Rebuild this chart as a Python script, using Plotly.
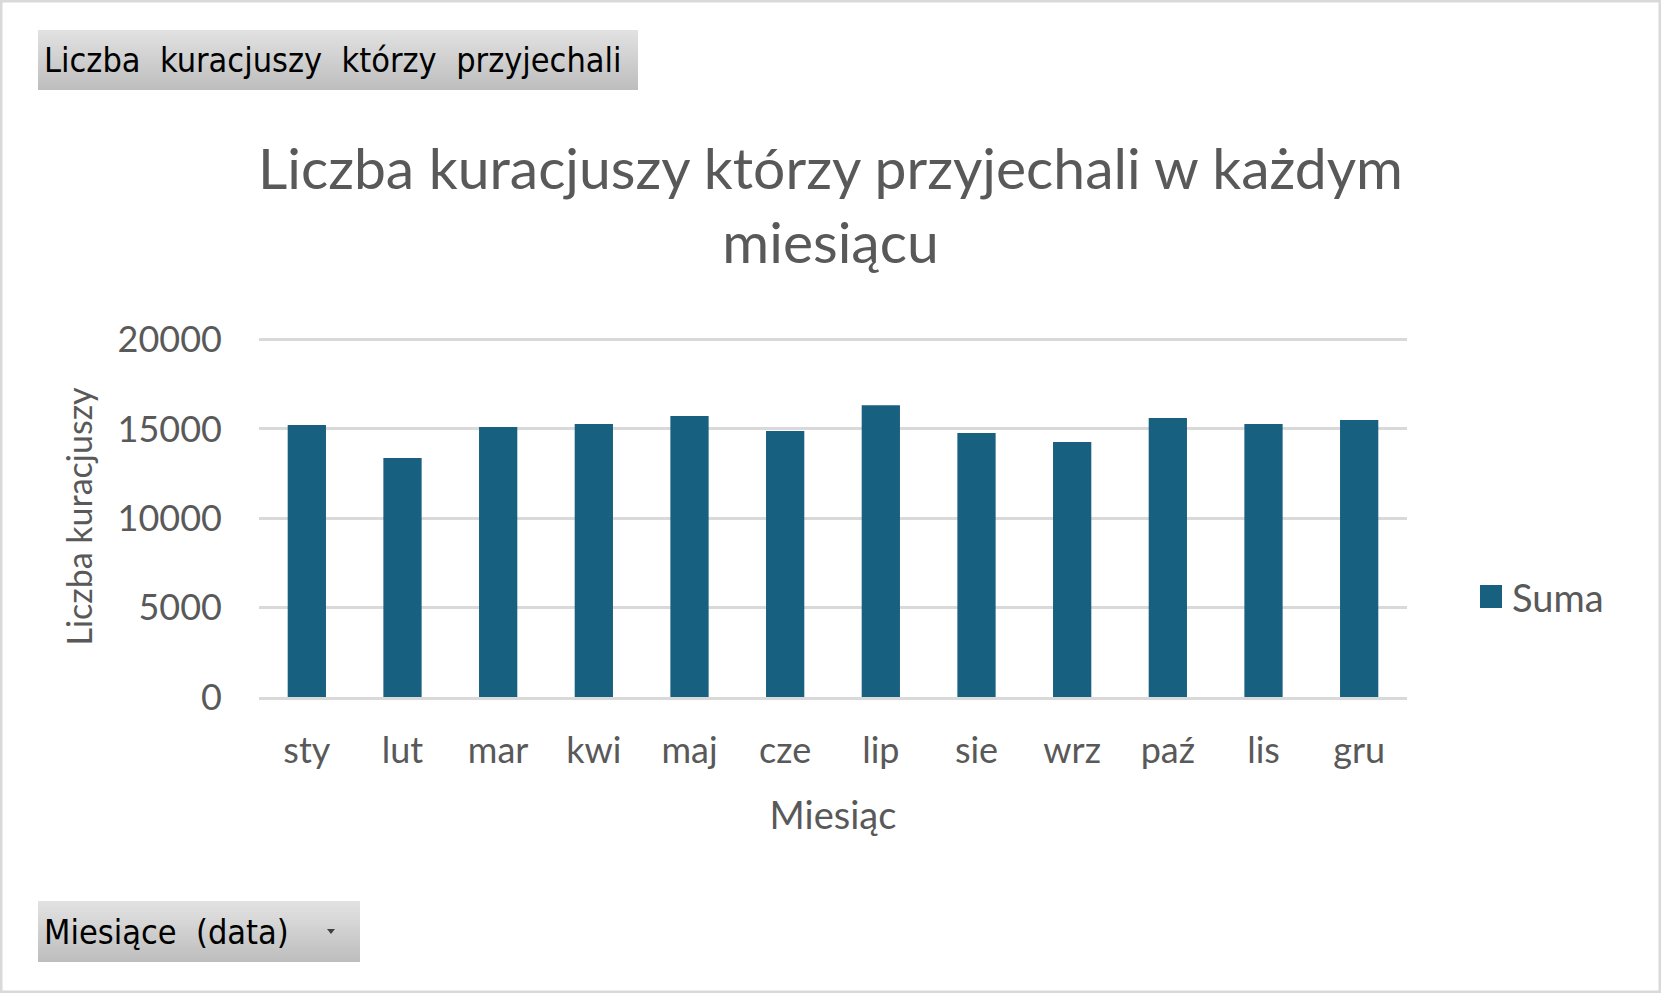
import plotly.graph_objects as go

months = ["sty", "lut", "mar", "kwi", "maj", "cze", "lip", "sie", "wrz", "paź", "lis", "gru"]
suma = [15214, 13371, 15102, 15270, 15717, 14879, 16331, 14767, 14264, 15605, 15270, 15493]
y_ticks = [0, 5000, 10000, 15000, 20000]

W, H = 1661, 993
L, R, T, B = 259, 1407, 336, 697
PW, PH = R - L, B - T

def px(x):
    return (x - L) / PW

def py(y):
    return (B - y) / PH

BAR = "#17607f"
GREY = "#595959"
FONT = "Lato"

fig = go.Figure()
fig.add_trace(go.Bar(x=months, y=suma, name="Suma", marker=dict(color=BAR, line=dict(width=0)),
                     showlegend=False))

shapes = []
# outer frame
shapes.append(dict(type="rect", xref="paper", yref="paper", x0=px(1), x1=px(W - 1), y0=py(H - 1), y1=py(1),
                   line=dict(color="#d9d9d9", width=3), fillcolor="rgba(0,0,0,0)", layer="below"))

def button(x0, y0, x1, y1, n=30):
    c0 = (225, 225, 225)
    c1 = (190, 190, 190)
    for i in range(n):
        t = i / (n - 1)
        c = tuple(int(round(c0[k] + (c1[k] - c0[k]) * t)) for k in range(3))
        ya = y0 + (y1 - y0) * i / n
        yb = y0 + (y1 - y0) * (i + 1) / n + 0.5
        shapes.append(dict(type="rect", xref="paper", yref="paper", x0=px(x0), x1=px(x1),
                           y0=py(min(yb, y1)), y1=py(ya), line=dict(width=0),
                           fillcolor="rgb(%d,%d,%d)" % c, layer="below"))

button(38, 30, 638, 90)
button(38, 901, 360, 962)

# dropdown arrow
shapes.append(dict(type="path", xref="paper", yref="paper",
                   path="M %f %f L %f %f L %f %f Z" % (px(327), py(929), px(335), py(929), px(331), py(934)),
                   fillcolor="#404040", line=dict(width=0)))

# legend key
shapes.append(dict(type="rect", xref="paper", yref="paper", x0=px(1480), x1=px(1502),
                   y0=py(608), y1=py(585), fillcolor=BAR, line=dict(width=0)))

annotations = [
    dict(text="Liczba  kuracjuszy  którzy  przyjechali", xref="paper", yref="paper",
         x=px(42), y=py(60), xanchor="left", yanchor="middle", showarrow=False,
         font=dict(family="DejaVu Sans Condensed, DejaVu Sans", size=34, color="#000000")),
    dict(text="Miesiące  (data)", xref="paper", yref="paper",
         x=px(42), y=py(932), xanchor="left", yanchor="middle", showarrow=False,
         font=dict(family="DejaVu Sans Condensed, DejaVu Sans", size=34, color="#000000")),
    dict(text="Liczba kuracjuszy którzy przyjechali w każdym<br>miesiącu", xref="paper", yref="paper",
         x=px(830), y=py(204), xanchor="center", yanchor="middle", showarrow=False,
         font=dict(family=FONT, size=57, color=GREY)),
    dict(text="Suma", xref="paper", yref="paper",
         x=px(1510), y=py(597), xanchor="left", yanchor="middle", showarrow=False,
         font=dict(family=FONT, size=38, color=GREY)),
]

fig.update_layout(
    width=W, height=H,
    margin=dict(l=L, r=W - R, t=T, b=H - B, autoexpand=False),
    paper_bgcolor="white", plot_bgcolor="white",
    bargap=0.6,
    showlegend=False,
    shapes=shapes,
    annotations=annotations,
    xaxis=dict(showgrid=False, showline=True, linecolor="#d9d9d9", linewidth=2.5,
               tickfont=dict(family=FONT, size=36, color=GREY), ticks="", ticklabelstandoff=20,
               title=dict(text="Miesiąc", font=dict(family=FONT, size=38, color=GREY), standoff=33)),
    yaxis=dict(range=[0, 20200], tickvals=y_ticks, tickformat="d", showgrid=True, gridcolor="#d9d9d9", gridwidth=2.5,
               zeroline=False, showline=False, ticks="",
               tickfont=dict(family=FONT, size=36, color=GREY), ticklabelstandoff=36,
               title=dict(text="Liczba kuracjuszy", font=dict(family=FONT, size=34, color=GREY), standoff=14)),
)

fig.write_html("out.html")
